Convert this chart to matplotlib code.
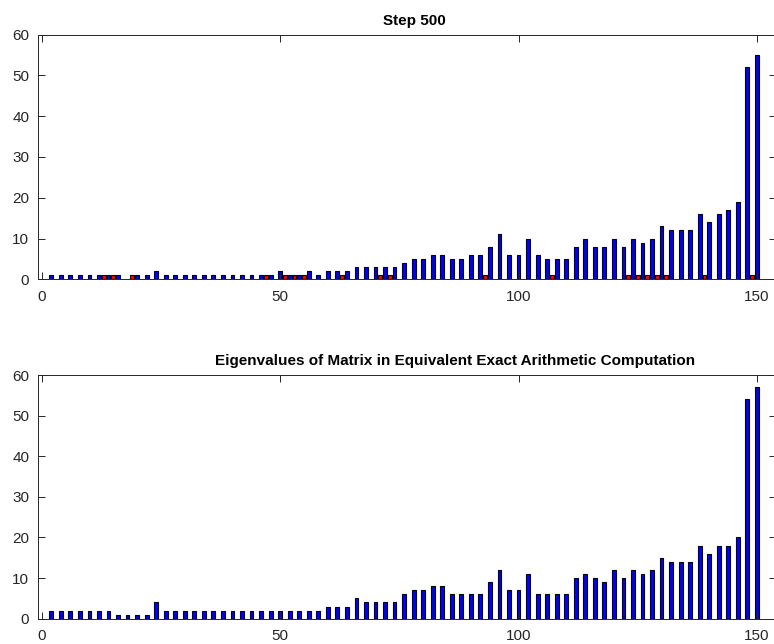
import numpy as np
import matplotlib
matplotlib.use("Agg")
import matplotlib.pyplot as plt

plt.rcParams['font.family'] = ['Liberation Sans', 'DejaVu Sans']

# eigenvalue index (even slots hold the blue bars, odd slots the red ones)
even_idx = list(range(2, 151, 2))

step_blue = [1, 1, 1, 1, 1, 1, 1, 1, 0, 1,
             1, 2, 1, 1, 1, 1, 1, 1, 1, 1,
             1, 1, 1, 1, 2, 1, 1, 2, 1, 2,
             2, 2, 3, 3, 3, 3, 3, 4, 5, 5,
             6, 6, 5, 5, 6, 6, 8, 11, 6, 6,
             10, 6, 5, 5, 5, 8, 10, 8, 8, 10,
             8, 10, 9, 10, 13, 12, 12, 12, 16, 14,
             16, 17, 19, 52, 55]
step_red_idx = [13, 15, 19, 47, 51, 53, 55, 63, 71, 73, 93,
                107, 123, 125, 127, 129, 131, 139, 149]
step_red = [1] * len(step_red_idx)

exact_blue = [2, 2, 2, 2, 2, 2, 2, 1, 1, 1,
              1, 4, 2, 2, 2, 2, 2, 2, 2, 2,
              2, 2, 2, 2, 2, 2, 2, 2, 2, 3,
              3, 3, 5, 4, 4, 4, 4, 6, 7, 7,
              8, 8, 6, 6, 6, 6, 9, 12, 7, 7,
              11, 6, 6, 6, 6, 10, 11, 10, 9, 12,
              10, 12, 11, 12, 15, 14, 14, 14, 18, 16,
              18, 18, 20, 54, 57]

titles = ["Step 500",
          "Eigenvalues of Matrix in Equivalent Exact Arithmetic Computation"]


def style_axes(ax, title, tx):
    ax.set_xlim(-0.85, 154)
    ax.set_ylim(0, 60)
    ax.set_xticks([0, 50, 100, 150])
    ax.set_yticks(range(0, 61, 10))
    ax.tick_params(direction='in', length=5, width=0.7, colors='#262626',
                   labelsize=11, top=True, right=True)
    ax.tick_params(axis='x', pad=7.5)
    ax.tick_params(axis='y', pad=6)
    for s in ax.spines.values():
        s.set_color('#262626')
        s.set_linewidth(0.7)
    ax.set_title(title, fontsize=11, fontweight='bold', pad=7, x=tx)


fig = plt.figure(figsize=(7.74, 6.44), dpi=100)
ax1 = fig.add_axes([0.0487, 0.5663, 0.9539, 0.3801])
ax2 = fig.add_axes([0.0487, 0.0393, 0.9539, 0.3784])

ax1.bar(even_idx, step_blue, width=0.8, color='#0000ff', edgecolor='black',
        linewidth=0.8)
ax1.bar(step_red_idx, step_red, width=0.8, color='#ff0000', edgecolor='black',
        linewidth=0.8)
style_axes(ax1, titles[0], 0.51)

ax2.bar(even_idx, exact_blue, width=0.8, color='#0000ff', edgecolor='black',
        linewidth=0.8)
style_axes(ax2, titles[1], 0.565)

fig.savefig("out.png", dpi=100)
